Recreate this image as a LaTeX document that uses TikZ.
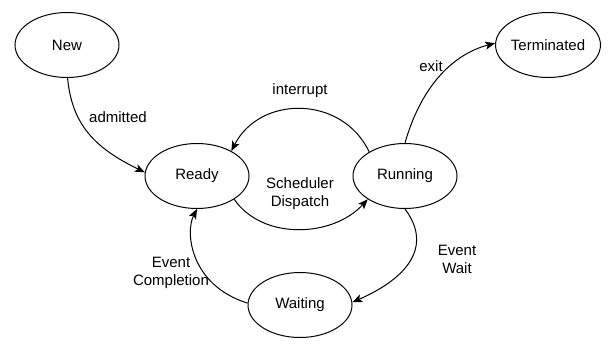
\documentclass[tikz,border=0pt]{standalone}
\usepackage{fontspec}
\setmainfont{Liberation Sans}
\usetikzlibrary{shapes.geometric,arrows.meta}
\begin{document}
\begin{tikzpicture}[x=1pt,y=-1pt,
  state/.style={ellipse,draw=black,line width=1pt,minimum width=104pt,minimum height=65pt,inner sep=0pt,font=\fontsize{15}{18}\selectfont},
  trans/.style={draw=black,line width=1pt,-{Stealth[length=10pt,width=8pt,inset=2.5pt]}},
  lbl/.style={align=center,inner sep=0pt,font=\fontsize{15}{18}\selectfont}]
\useasboundingbox (0,0) rectangle (610,345);

% process states
\node[state] (new)  at (67,45)   {New};
\node[state] (ready) at (197,176) {Ready};
\node[state] (run)  at (405,176) {Running};
\node[state] (term) at (548,45)  {Terminated};
\node[state] (wait) at (300,305) {Waiting};

% transitions
\draw[trans] (new.-89) .. controls (72,125) and (95,148) .. (ready.176);
\draw[trans] (run.146) .. controls (342,95) and (260,95) .. (ready.36);
\draw[trans] (ready.-32) .. controls (262,240) and (332,238) .. (run.-148);
\draw[trans] (run.-90) .. controls (432,245) and (410,277) .. (wait.3);
\draw[trans] (wait.178) .. controls (190,285) and (185,232) .. (ready.-90);
\draw[trans] (run.90) .. controls (420,90) and (450,55) .. (term.178);

% transition labels
\node[lbl] (ladm)  at (118,117) {admitted};
\node[lbl] (lint)  at (300,91)  {interrupt};
\node[lbl] (lsch)  at (300,194) {Scheduler\\Dispatch};
\node[lbl] (lwait) at (457,259) {Event\\Wait};
\node[lbl] (lcomp) at (171,273) {Event\\Completion};
\node[lbl] (lexit) at (431,66)  {exit};
\end{tikzpicture}
\end{document}
